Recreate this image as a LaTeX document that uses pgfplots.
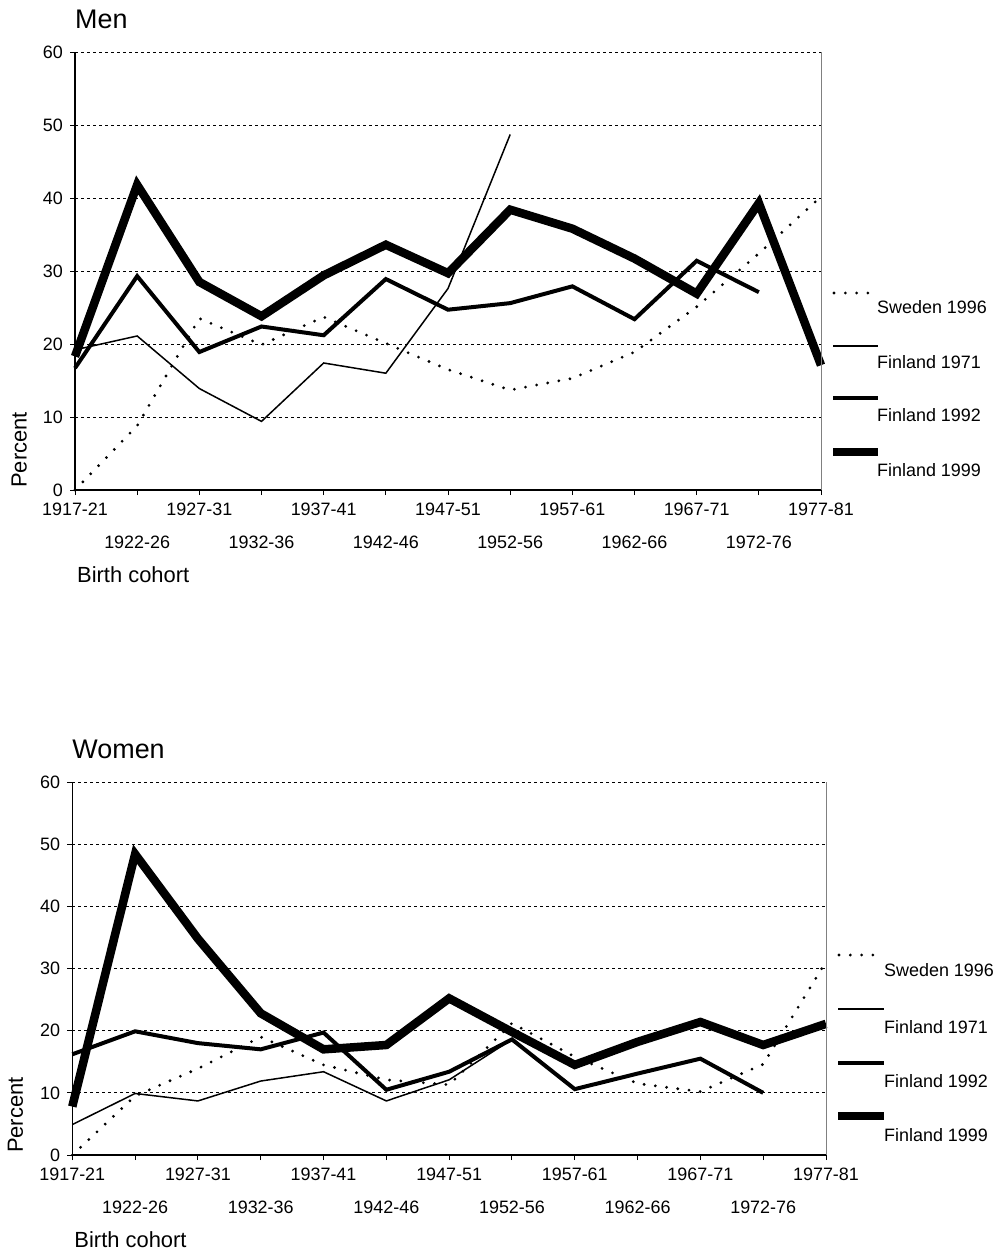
\documentclass[border=0pt]{standalone}
\usepackage{pgfplots}
\pgfplotsset{compat=1.18}
\usepackage{fontspec}
\setmainfont{Liberation Sans}

\tikzset{
  sweden/.style={black, line width=3.1bp, dash pattern=on 0bp off 11.3bp, line cap=round},
  f71/.style={black, line width=1.5bp},
  f92/.style={black, line width=4bp},
  f99/.style={black, line width=8.5bp},
  legtext/.style={anchor=west, inner sep=0pt, font=\fontsize{18}{21}\selectfont},
}

\pgfplotsset{
  cohort/.style={
    scale only axis, clip=false,
    xmin=0, xmax=12, ymin=0, ymax=60,
    ytick={0,10,...,60},
    xtick={0,2,...,12},
    xticklabels={1917-21,1927-31,1937-41,1947-51,1957-61,1967-71,1977-81},
    extra x ticks={1,3,...,11},
    extra x tick labels={1922-26,1932-36,1942-46,1952-56,1962-66,1972-76},
    extra x tick style={xticklabel style={yshift=-33bp}},
    axis x line*=bottom, axis y line*=left,
    axis line style={line width=1.3bp, -},
    tick align=outside,
    major tick length=5bp,
    tick style={black, line width=1bp},
    ymajorgrids, grid style={black, line width=0.8bp, dash pattern=on 3bp off 3bp},
    tick label style={font=\fontsize{18}{21}\selectfont},
    /pgf/number format/assume math mode=true,
    yticklabel style={inner sep=0pt, anchor=east, xshift=-7bp},
    xticklabel style={inner sep=0pt, anchor=north, yshift=-8bp},
    title style={at={(axis description cs:0,1)}, anchor=base west, yshift=18bp, inner sep=0pt, font=\fontsize{27}{32}\selectfont},
    xlabel={Birth cohort},
    xlabel style={at={(axis description cs:0,0)}, anchor=west, yshift=-85bp, xshift=2bp, inner sep=0pt, font=\fontsize{22}{26}\selectfont},
    ylabel={Percent},
    ylabel style={anchor=south west, inner sep=0pt, font=\fontsize{22}{26}\selectfont},
  },
}

\begin{document}
\begin{tikzpicture}[x=1bp,y=1bp]
\useasboundingbox (0,0) rectangle (1000,-1251);

% ---------------- Men ----------------
\begin{axis}[cohort, at={(75bp,-490bp)}, anchor=south west,
  width=746bp, height=438bp, title={Men},
  ylabel style={at={(axis description cs:-0.0643,0.0046)}}]
\addplot[sweden] coordinates {(0,0) (1,8.8) (2,23.5) (3,19.9) (4,23.7) (5,20.1) (6,16.5) (7,13.7) (8,15.3) (9,18.9) (10,25.1) (11,32.4) (12,40.2)};
\addplot[f71] coordinates {(0,19.2) (1,21.1) (2,13.9) (3,9.4) (4,17.4) (5,16.0) (6,27.6) (7,48.7)};
\addplot[f92] coordinates {(0,16.7) (1,29.3) (2,18.9) (3,22.4) (4,21.2) (5,28.9) (6,24.7) (7,25.6) (8,27.9) (9,23.4) (10,31.4) (11,27.1)};
\addplot[f99] coordinates {(0,18.3) (1,41.8) (2,28.5) (3,23.8) (4,29.4) (5,33.6) (6,29.7) (7,38.4) (8,35.8) (9,31.7) (10,26.9) (11,39.3) (12,17.1)};
\draw[gray, line width=1bp] (rel axis cs:1,0) -- (rel axis cs:1,1);
\end{axis}

% legend (Men)
\draw[sweden] (834,-293) -- (878,-293);
\node[legtext] at (877,-307) {Sweden 1996};
\draw[f71] (833,-346) -- (878,-346);
\node[legtext] at (877,-362) {Finland 1971};
\draw[f92] (833,-398) -- (878,-398);
\node[legtext] at (877,-415) {Finland 1992};
\draw[f99] (833,-452) -- (878,-452);
\node[legtext] at (877,-470) {Finland 1999};

% ---------------- Women ----------------
\begin{axis}[cohort, at={(72.3bp,-1155bp)}, anchor=south west,
  width=753.7bp, height=373bp, title={Women},
  ylabel style={at={(axis description cs:-0.065,0.0054)}}]
\addplot[sweden] coordinates {(0,0) (1,9.5) (2,13.9) (3,19.0) (4,14.5) (5,12.1) (6,11.3) (7,21.2) (8,15.8) (9,11.5) (10,10.2) (11,14.6) (12,31.1)};
\addplot[f71] coordinates {(0,4.9) (1,9.9) (2,8.7) (3,11.9) (4,13.4) (5,8.7) (6,12.1) (7,18.6)};
\addplot[f92] coordinates {(0,16.2) (1,19.9) (2,18.0) (3,17.0) (4,19.7) (5,10.5) (6,13.4) (7,18.6) (8,10.6) (9,13.1) (10,15.5) (11,10.0)};
\addplot[f99] coordinates {(0,7.8) (1,48.4) (2,34.8) (3,22.8) (4,17.0) (5,17.7) (6,25.2) (7,19.8) (8,14.5) (9,18.2) (10,21.4) (11,17.7) (12,21.1)};
\draw[gray, line width=1bp] (rel axis cs:1,0) -- (rel axis cs:1,1);
\end{axis}

% legend (Women)
\draw[sweden] (839,-955) -- (884,-955);
\node[legtext] at (884,-970) {Sweden 1996};
\draw[f71] (838,-1009) -- (884,-1009);
\node[legtext] at (884,-1027) {Finland 1971};
\draw[f92] (838,-1063) -- (884,-1063);
\node[legtext] at (884,-1081) {Finland 1992};
\draw[f99] (838,-1116) -- (884,-1116);
\node[legtext] at (884,-1135) {Finland 1999};
\end{tikzpicture}
\end{document}
